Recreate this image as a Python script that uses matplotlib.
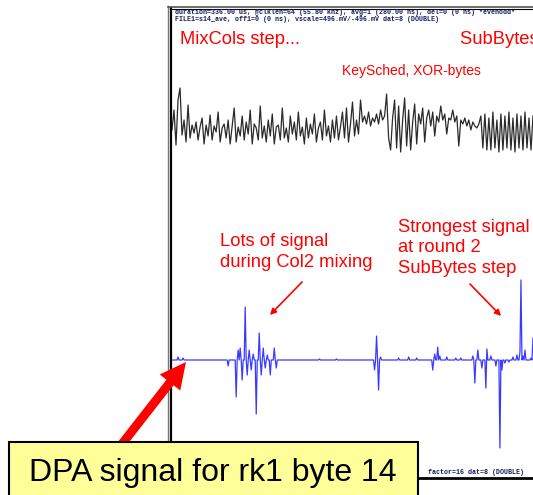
import numpy as np
import matplotlib
matplotlib.use("Agg")
import matplotlib.pyplot as plt
from matplotlib.patches import FancyArrow, Rectangle

# top trace: power trace, one sample per 2 px, offset from its baseline
trace_top = [0, 20, -15, 30, 42, -5, 10, -12, 25, -8, 5, -3, 8, -10, 3, 12, -14, 5, -6, 15,
             -10, 4, -2, 18, -12, 2, 6, -8, 10, -14, 4, 22, -12, 3, -6, 14, -10, 8, -4, 20,
             -14, 6, 2, -10, 24, -8, 4, -12, 10, -6, 16, -14, 3, 5, -10, 22, -8, 2, -12, 14,
             -4, 8, -10, 18, -6, 3, -14, 12, -8, 6, -4, 16, -12, 2, 8, -10, 20, -6, 4, -12,
             10, -8, 14, -10, 3, 18, -8, 22, -12, 6, 28, -6, 10, -4,
             30, 8, 14, 6, 18, 4, 12, 8, 16, 6, 20, 10, 14, 36, -8, -20, 12, 30, -18, 24,
             -22, 10, 32, -16, 20, -20, 8, 26, -14, 16, 6, 22, -12, 12, 20, 4, 18, -6, 14, 8,
             24, 10, 16, -4, 12, 10, 20, 8, 14, -16, 10, 6, 12, 4, 10, 0, 8, 4, 2, 6,
             14, -18, 16, -20, 12, -20, 18, -18, 10, -22, 16, -20, 14, -18, 18, -20, 12, -22,
             16, -18, 14, -20, 18, -18, 12, -20, 14]

# DPA trace: flat except at these samples (1 sample per px)
dpa_idx = [6, 11, 56, 64, 66, 68, 70, 73, 75, 77, 79, 81, 84, 87, 89, 91, 93, 95, 98, 102, 104,
           147, 164, 202, 204, 206, 208, 226, 236, 244, 260, 262, 265, 267, 274, 283, 288,
           300, 302, 305, 309, 313, 314, 318, 323, 327, 329, 332, 336, 340, 344, 347, 348,
           350, 352, 354, 358, 360]
dpa_val = [3, 2, -6, -37, 10, 12, -20, 53, -15, 10, -10, 6, -54, 27, -15, 12, -8, 5, -15, 12, -8,
           1, 1, -10, 24, -30, 3, 2, 3, 2, -10, 6, 13, 4, 3, 2, 2,
           4, -23, 10, -8, -28, 11, 4, -6, -88, -10, -3, -2, 3, 5, 8, 80,
           4, 10, 0, 2, 22]

header1 = "duration=336.00 us, @clklen=64 (55.80 khz), avg=1 (280.00 ns), del=0 (0 ns) *evenodd*"
header2 = "FILE1=s14_ave, off1=0 (0 ns), vscale=496.mV/-496.mV dat=8 (DOUBLE)"
footer = "factor=16 dat=8 (DOUBLE)"

W, H = 533, 495
fig = plt.figure(figsize=(W / 100, H / 100), dpi=100)

def px_axes(x0, y0, x1, y1):
    return fig.add_axes([x0 / W, 1 - y1 / H, (x1 - x0) / W, (y1 - y0) / H])

# frame of the scope window
base = px_axes(0, 0, W, H)
base.set_xlim(0, W)
base.set_ylim(H, 0)
base.axis("off")
base.plot([168, 168], [6, H], color="#777777", lw=1)
base.plot([170.5, 170.5], [8, H], color="black", lw=1.6)
base.plot([168, W], [6.5, 6.5], color="#555555", lw=1.2)
base.plot([170, W], [9, 9], color="black", lw=0.8)
base.plot([170, W], [478, 478], color="black", lw=2)
navy = "#1a1a5e"
base.text(175, 12.5, header1, fontsize=4.8, family="Liberation Mono", weight="bold",
          color=navy, va="center")
base.text(175, 19.5, header2, fontsize=4.8, family="Liberation Mono", weight="bold",
          color=navy, va="center")
base.text(428, 472, footer, fontsize=4.8, family="Liberation Mono", weight="bold",
          color=navy, va="center")

# top trace
ax1 = px_axes(172, 80, W, 160)
x_top = np.arange(len(trace_top))
ax1.plot(x_top, trace_top, color="#2a2a2a", lw=0.9)
ax1.set_xlim(0, len(trace_top) - 1)
ax1.set_ylim(-30, 50)
ax1.axis("off")

# DPA trace
dpa = np.zeros(361)
dpa[dpa_idx] = dpa_val
ax2 = px_axes(172, 270, W, 455)
ax2.plot(np.arange(len(dpa)), dpa, color="#3a3aff", lw=0.9)
ax2.set_xlim(0, len(dpa) - 1)
ax2.set_ylim(-95, 90)
ax2.axis("off")

# annotations on top
top = px_axes(0, 0, W, H)
top.set_xlim(0, W)
top.set_ylim(H, 0)
top.axis("off")
red = "#ff0000"
sans = "Liberation Sans"
top.text(180, 40, "MixCols step...", color=red, fontsize=13.2, family=sans, va="center")
# cut off by the right edge, as on the original slide
top.text(460, 40, "SubBytes step", color=red, fontsize=13.2, family=sans, va="center")
top.text(342, 71, "KeySched, XOR-bytes", color=red, fontsize=10, family=sans, va="center")
top.text(220, 252, "Lots of signal\nduring Col2 mixing", color=red, fontsize=13.2,
         family=sans, va="center", linespacing=1.25)
top.text(398, 248, "Strongest signal\nat round 2\nSubBytes step", color=red, fontsize=13.2,
         family=sans, va="center", linespacing=1.25)
top.annotate("", xy=(268, 317), xytext=(304, 280),
             arrowprops=dict(arrowstyle="-|>", color=red, lw=1.2, mutation_scale=9))
top.annotate("", xy=(503, 318), xytext=(468, 282),
             arrowprops=dict(arrowstyle="-|>", color=red, lw=1.2, mutation_scale=9))

top.add_patch(FancyArrow(122, 444, 64, -82, width=9, head_width=26, head_length=26,
                         length_includes_head=True, color=red, lw=0))
top.add_patch(Rectangle((9, 442), 409, 60, facecolor="#ffff99", edgecolor="black", lw=1.5,
                        zorder=5))
top.text(213, 481, "DPA signal for rk1 byte 14", fontsize=23, family=sans,
         ha="center", va="baseline", zorder=6)

fig.savefig("out.png", dpi=100)
